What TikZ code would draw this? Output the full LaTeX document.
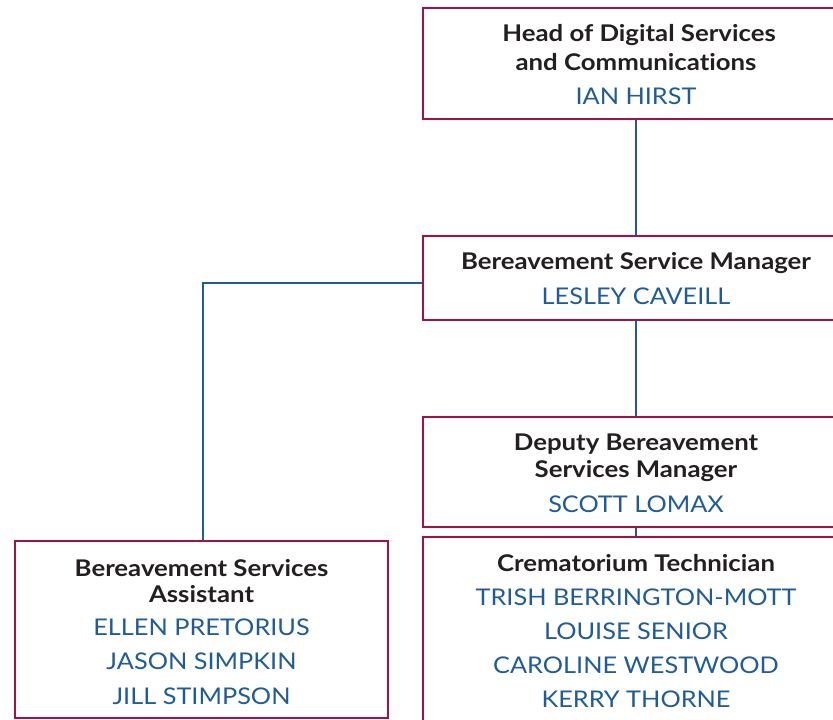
\documentclass[tikz,border=0pt]{standalone}
\usepackage{fontspec}
\setmainfont{Lato}
\newfontfamily\titlefont[FakeStretch=1.12,Ligatures=NoCommon]{Lato Bold}
\newfontfamily\namefont[FakeStretch=1.10,Ligatures=NoCommon]{Lato}
\definecolor{crim}{RGB}{166,16,74}
\definecolor{nblue}{RGB}{31,92,153}
\definecolor{tdark}{RGB}{35,31,32}
\begin{document}
\begin{tikzpicture}[x=1pt,y=-1pt,
  box/.style={draw=crim,line width=2.8pt,fill=white,minimum width=#1,inner sep=0pt,rectangle},
  title/.style={text=tdark,font=\titlefont\fontsize{23}{26}\selectfont,inner sep=0pt,anchor=center},
  pname/.style={text=nblue,font=\namefont\fontsize{23}{26}\selectfont,inner sep=0pt,anchor=center},
  conn/.style={draw=nblue,line width=1.8pt}]
\useasboundingbox (0,0) rectangle (833,720);
\clip (0,0) rectangle (833,720);
% boxes
\node[box=426pt,minimum height=111pt] (b1) at (636,63.5) {};
\node[box=426pt,minimum height=84pt] (b2) at (636,278) {};
\node[box=426pt,minimum height=110pt] (b3) at (636,472) {};
\node[box=426pt,minimum height=203pt] (b4) at (636,638.5) {};
\node[box=373pt,minimum height=177pt] (b5) at (201.5,629.5) {};
% connectors
\coordinate (corner) at (203,283);
\draw[conn] (b1.south) -- (b2.north);
\draw[conn] (b2.south) -- (b3.north);
\draw[conn] (b3.south) -- (b4.north);
\draw[conn] (b2.west |- corner) -- (corner) -- (corner |- b5.north);
% texts
\node[title] (t1a) at (639,35) {Head of Digital Services};
\node[title] (t1b) at (636,62) {and Communications};
\node[pname] (n1) at (636,96.5) {IAN HIRST};
\node[title] (t2) at (636,263) {Bereavement Service Manager};
\node[pname] (n2) at (636,296.5) {LESLEY CAVEILL};
\node[title] (t3a) at (636,444) {Deputy Bereavement};
\node[title] (t3b) at (636,471) {Services Manager};
\node[pname] (n3) at (636,504.5) {SCOTT LOMAX};
\node[title] (t4) at (636,563) {Crematorium Technician};
\node[pname] (n4a) at (636,597.5) {TRISH BERRINGTON-MOTT};
\node[pname] (n4b) at (636,631.5) {LOUISE SENIOR};
\node[pname] (n4c) at (636,665.5) {CAROLINE WESTWOOD};
\node[pname] (n4d) at (636,699.5) {KERRY THORNE};
\node[title] (t5a) at (201.5,568) {Bereavement Services};
\node[title] (t5b) at (201.5,594) {Assistant};
\node[pname] (n5a) at (201.5,627.5) {ELLEN PRETORIUS};
\node[pname] (n5b) at (201.5,661.5) {JASON SIMPKIN};
\node[pname] (n5c) at (201.5,696.5) {JILL STIMPSON};
\end{tikzpicture}
\end{document}
